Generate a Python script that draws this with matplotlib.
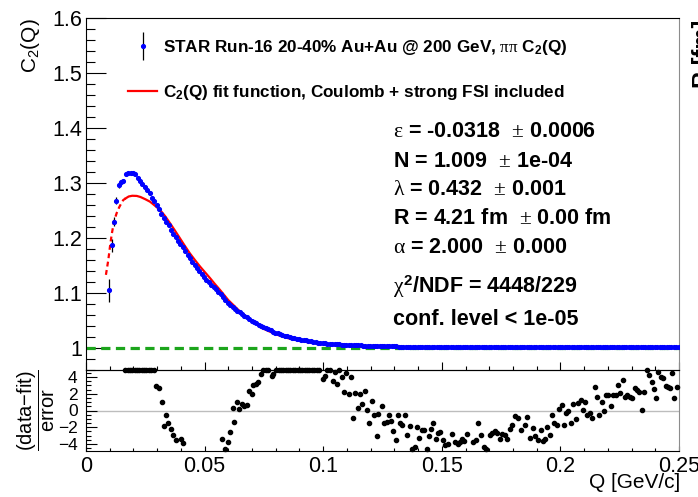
import matplotlib
matplotlib.use('Agg')
import matplotlib.pyplot as plt
import numpy as np
from matplotlib.ticker import MultipleLocator, FuncFormatter
from matplotlib.legend_handler import HandlerErrorbar
from matplotlib.container import ErrorbarContainer

plt.rcParams['font.family'] = 'Liberation Sans'
plt.rcParams['mathtext.fontset'] = 'custom'
plt.rcParams['mathtext.rm'] = 'Liberation Serif'
plt.rcParams['mathtext.it'] = 'Liberation Serif'
plt.rcParams['mathtext.bf'] = 'Liberation Sans:bold'
plt.rcParams['mathtext.sf'] = 'Liberation Sans'

# pi-pi correlation function, 1 MeV bins starting at Q = 9.8 MeV
Q_FIRST = 0.0098
BIN_WIDTH = 0.001
c2_values = [
    1.105, 1.187, 1.230, 1.268, 1.296, 1.301, 1.304, 1.316, 1.318, 1.319,
    1.319, 1.316, 1.310, 1.304, 1.298, 1.293, 1.287, 1.281, 1.273, 1.267,
    1.260, 1.253, 1.244, 1.236, 1.229, 1.223, 1.215, 1.208, 1.202, 1.195,
    1.189, 1.183, 1.176, 1.170, 1.163, 1.157, 1.151, 1.145, 1.140, 1.134,
    1.129, 1.124, 1.120, 1.115, 1.111, 1.107, 1.102, 1.098, 1.093, 1.088,
    1.082, 1.078, 1.075, 1.071, 1.068, 1.065, 1.062, 1.059, 1.056, 1.053,
    1.050, 1.047, 1.045, 1.042, 1.040, 1.038, 1.036, 1.034, 1.032, 1.030,
    1.028, 1.027, 1.025, 1.024, 1.022, 1.021, 1.020, 1.019, 1.018, 1.017,
    1.016, 1.015, 1.0145, 1.014, 1.013, 1.012, 1.011, 1.0105, 1.010, 1.0095,
    1.0090, 1.0085, 1.0081, 1.0078, 1.0074, 1.0071, 1.0068, 1.0066, 1.0063, 1.0061,
    1.0058, 1.0056, 1.0054, 1.0052, 1.0050, 1.0049, 1.0047, 1.0045, 1.0044, 1.0042,
    1.0041, 1.0039, 1.0038, 1.0037, 1.0035, 1.0034, 1.0033, 1.0032, 1.0031, 1.0030,
    1.0029, 1.0028, 1.0027, 1.0027, 1.0026, 1.0025, 1.0025, 1.0024, 1.0023, 1.0023,
    1.0022, 1.0022, 1.0021, 1.0021, 1.0020, 1.0020, 1.0019, 1.0019, 1.0019, 1.0018,
    1.0018, 1.0018, 1.0017, 1.0017, 1.0017, 1.0016, 1.0016, 1.0016, 1.0016, 1.0015,
    1.0015, 1.0015, 1.0015, 1.0015, 1.0014, 1.0014, 1.0014, 1.0014, 1.0014, 1.0014,
    1.0013, 1.0013, 1.0014, 1.0013, 1.0013, 1.0014, 1.0013, 1.0013, 1.0012, 1.0013,
    1.0013, 1.0013, 1.0012, 1.0013, 1.0013, 1.0012, 1.0013, 1.0012, 1.0013, 1.0013,
    1.0012, 1.0013, 1.0013, 1.0012, 1.0013, 1.0013, 1.0013, 1.0014, 1.0013, 1.0013,
    1.0014, 1.0014, 1.0013, 1.0014, 1.0014, 1.0013, 1.0014, 1.0014, 1.0015, 1.0014,
    1.0014, 1.0015, 1.0014, 1.0015, 1.0015, 1.0014, 1.0015, 1.0015, 1.0016, 1.0015,
    1.0015, 1.0016, 1.0015, 1.0016, 1.0016, 1.0017, 1.0016, 1.0016, 1.0017, 1.0016,
    1.0017, 1.0017, 1.0016, 1.0017, 1.0017, 1.0018, 1.0017, 1.0017, 1.0018, 1.0017,
    1.0018, 1.0018, 1.0019, 1.0018, 1.0018, 1.0019, 1.0018, 1.0019, 1.0019, 1.0018,
    1.0019,
]
# only the lowest bins have errors bigger than the marker
low_q_err = [0.021, 0.012, 0.008, 0.006, 0.005, 0.004, 0.0035, 0.003]

# fit function: outside the fit range (dashed) and inside (solid)
fit_dash_q = [0.0084, 0.0094, 0.0101, 0.0108, 0.0118, 0.0129, 0.0140, 0.0150, 0.0157, 0.0167]
fit_dash_c = [1.133, 1.160, 1.184, 1.2055, 1.230, 1.245, 1.256, 1.264, 1.269, 1.272]
fit_q = [0.0167, 0.0180, 0.0195, 0.0214, 0.0230, 0.0250, 0.0270, 0.0290, 0.0312,
         0.0333, 0.0354, 0.0375, 0.0396, 0.0417, 0.0438, 0.0460, 0.0481, 0.0502,
         0.0523, 0.0544, 0.0565, 0.0600, 0.0650, 0.0700, 0.0748, 0.0800, 0.0846,
         0.0900, 0.0944, 0.1000, 0.1057, 0.1140, 0.1250, 0.1400, 0.1600, 0.1900,
         0.2200, 0.2500]
fit_c = [1.272, 1.2755, 1.2768, 1.2765, 1.2745, 1.2705, 1.266, 1.259, 1.251,
         1.240, 1.227, 1.2135, 1.1995, 1.1855, 1.172, 1.1595, 1.148, 1.1375,
         1.127, 1.116, 1.1055, 1.087, 1.066, 1.049, 1.035, 1.025, 1.0185,
         1.013, 1.010, 1.0070, 1.0050, 1.0030, 1.0018, 1.0010, 1.0006, 1.0004,
         1.0003, 1.0003]

# (data-fit)/error; points off the top of the pad sit on the frame (4.85)
res_q = [0.0165, 0.0175, 0.0185, 0.0195, 0.0205, 0.0215, 0.0225, 0.0235, 0.0245, 0.0255,
         0.0265, 0.0275, 0.0285, 0.0295, 0.0308, 0.0319, 0.0328, 0.0337, 0.0347, 0.0358,
         0.0368, 0.0378, 0.0399, 0.0408, 0.0575, 0.0586, 0.0597, 0.0607, 0.0618, 0.0625,
         0.0638, 0.0646, 0.0656, 0.0666, 0.0677, 0.0687, 0.0699, 0.0705, 0.0717, 0.0726,
         0.0737, 0.0747, 0.0758, 0.0769, 0.0783, 0.0790, 0.0802, 0.0812, 0.0822, 0.0832,
         0.0842, 0.0852, 0.0862, 0.0872, 0.0882, 0.0892, 0.0902, 0.0912, 0.0922, 0.0932,
         0.0942, 0.0952, 0.0962, 0.0972, 0.0982, 0.0998, 0.1006, 0.1017, 0.1029, 0.1040,
         0.1051, 0.1057, 0.1068, 0.1078, 0.1088, 0.1096, 0.1108, 0.1116, 0.1127, 0.1135,
         0.1145, 0.1155, 0.1165, 0.1176, 0.1186, 0.1194, 0.1207, 0.1215, 0.1226, 0.1232,
         0.1247, 0.1258, 0.1268, 0.1277, 0.1286, 0.1296, 0.1306, 0.1314, 0.1324, 0.1333,
         0.1345, 0.1355, 0.1366, 0.1376, 0.1387, 0.1394, 0.1405, 0.1415, 0.1426, 0.1436,
         0.1446, 0.1454, 0.1464, 0.1474, 0.1483, 0.1492, 0.1504, 0.1513, 0.1525, 0.1544,
         0.1556, 0.1567, 0.1577, 0.1586, 0.1595, 0.1605, 0.1633, 0.1644, 0.1654, 0.1665,
         0.1679, 0.1686, 0.1703, 0.1713, 0.1724, 0.1734, 0.1745, 0.1755, 0.1766, 0.1776,
         0.1788, 0.1797, 0.1809, 0.1820, 0.1833, 0.1851, 0.1860, 0.1872, 0.1886, 0.1893,
         0.1907, 0.1917, 0.1925, 0.1935, 0.1945, 0.1956, 0.1963, 0.1974, 0.1984, 0.1995,
         0.2005, 0.2015, 0.2024, 0.2033, 0.2043, 0.2054, 0.2064, 0.2075, 0.2086, 0.2094,
         0.2104, 0.2113, 0.2125, 0.2134, 0.2145, 0.2153, 0.2164, 0.2174, 0.2184, 0.2192,
         0.2202, 0.2212, 0.2223, 0.2233, 0.2243, 0.2251, 0.2263, 0.2272, 0.2282, 0.2293,
         0.2302, 0.2313, 0.2322, 0.2331, 0.2343, 0.2354, 0.2364, 0.2374, 0.2385, 0.2395,
         0.2403, 0.2413, 0.2423, 0.2434, 0.2444, 0.2452, 0.2462, 0.2472, 0.2480, 0.2490]
res_v = [4.85, 4.85, 4.85, 4.85, 4.85, 4.85, 4.85, 4.85, 4.85, 4.85,
         4.85, 4.85, 4.85, 2.97, 2.72, 0.96, -1.87, -0.48, -1.48, -2.16,
         -2.95, -3.55, -3.43, -3.84, -3.43, -4.60, -3.76, -2.56, 0.32, -1.36,
         0.96, 0.16, 0.77, 0.53, 0.65, 2.33, 1.97, 3.05, 3.12, 3.36,
         4.40, 4.85, 4.85, 4.85, 4.17, 4.32, 4.85, 4.85, 4.85, 4.85,
         4.85, 4.85, 4.85, 4.85, 4.85, 4.85, 4.85, 4.85, 4.85, 4.85,
         4.85, 4.85, 4.85, 4.85, 4.85, 3.77, 4.17, 4.85, 4.85, 3.53,
         4.65, 3.12, 4.85, 4.05, 2.16, 4.44, 1.92, 4.05, -0.88, 2.04,
         0.32, 1.92, 0.77, 2.33, 0.05, -1.44, 1.13, -0.48, -3.04, -0.36,
         0.53, -1.48, -1.36, -0.56, -1.28, -2.48, -3.56, -0.56, -1.48, -1.68,
         -0.48, -2.95, -1.84, -4.63, -4.36, -1.96, -3.28, -2.36, -2.36, -4.56,
         -3.04, -2.16, -1.44, -3.43, -2.68, -2.56, -3.55, -4.08, -3.96, -2.83,
         -3.76, -3.96, -3.76, -3.43, -3.64, -2.83, -3.76, -3.55, -1.48, -2.95,
         -4.36, -4.63, -2.88, -2.68, -2.48, -2.68, -3.36, -2.76, -2.88, -3.43,
         -2.16, -1.76, -0.64, -0.88, -2.36, -1.76, -0.76, -3.28, -2.08, -3.04,
         -3.48, -2.36, -3.68, -3.36, -1.96, -2.88, -0.56, -1.48, -1.76, 0.16,
         0.65, -1.76, -0.24, -0.08, -1.48, 0.72, -1.04, 0.92, 1.24, 0.05,
         1.04, -0.48, -0.24, -0.88, 2.81, 1.64, -0.56, 1.04, -0.08, 1.84,
         1.84, 0.53, 1.84, 1.84, 3.05, 2.04, 3.65, 1.64, 1.84, 1.64,
         1.52, 2.72, 2.45, 2.24, 0.05, 2.16, 4.85, 4.25, 3.45, 2.57,
         1.52, 4.65, 4.05, 3.93, 2.97, 2.85, 2.64, 4.44, 1.52, 2.85]

fit_text = [
    r'$\varepsilon$ = -0.0318  $\pm$ 0.0006',
    r'N = 1.009  $\pm$ 1e-04',
    r'$\lambda$ = 0.432  $\pm$ 0.001',
    r'R = 4.21 fm  $\pm$ 0.00 fm',
    r'$\alpha$ = 2.000  $\pm$ 0.000',
    r'$\chi^\mathbf{2}$/NDF = 4448/229',
    'conf. level < 1e-05',
]
fit_text_baseline = [136.7, 166.7, 195, 224, 253, 293, 325]

W, H = 698, 497
q = Q_FIRST + BIN_WIDTH * np.arange(len(c2_values))
c2 = np.array(c2_values)

fig = plt.figure(figsize=(W / 100, H / 100), dpi=100)
ax = fig.add_axes([86 / W, 1 - 370 / H, 593 / W, 352 / H])
axr = fig.add_axes([86 / W, 1 - 451 / H, 593 / W, 81 / H])

# upper pad: C2(Q)
ax.axhline(1.0, color='#1ca51c', lw=2.3, ls=(0, (2.9, 1.7)), zorder=2)
fit_line, = ax.plot(fit_q, fit_c, color='red', lw=1.6, zorder=3)
ax.plot(fit_dash_q, fit_dash_c, color='red', lw=1.6, ls=(0, (2.2, 1.6)), zorder=3)
eb = ax.errorbar(q[:8], c2[:8], yerr=low_q_err, fmt='o', ms=2.7, color='blue',
                 mec='blue', ecolor='black', elinewidth=0.9, capsize=0, zorder=4)
ax.plot(q[8:], c2[8:], 'o', ms=2.7, color='blue', mec='blue', zorder=4)

ax.set_xlim(0, 0.25)
ax.set_ylim(0.96, 1.6)
ax.xaxis.set_major_locator(MultipleLocator(0.05))
ax.xaxis.set_minor_locator(MultipleLocator(0.01))
ax.yaxis.set_major_locator(MultipleLocator(0.1))
ax.yaxis.set_minor_locator(MultipleLocator(0.02))
ax.yaxis.set_major_formatter(FuncFormatter(lambda v, p: f'{v:g}'))
ax.tick_params(axis='x', which='major', direction='in', length=5.8, labelbottom=False)
ax.tick_params(axis='x', which='minor', direction='in', length=3.1)
ax.tick_params(axis='y', which='major', direction='in', length=14.4, labelsize=15.5, pad=3)
ax.tick_params(axis='y', which='minor', direction='in', length=6.7)

ax.legend([eb, fit_line],
          [r'STAR Run-16 20-40% Au+Au @ 200 GeV, $\pi\pi$ C$_\mathbf{2}$(Q)',
           r'C$_\mathbf{2}$(Q) fit function, Coulomb + strong FSI included'],
          loc='upper left', bbox_to_anchor=(42 / 593, (370 - 38) / 352),
          frameon=False, borderpad=0, borderaxespad=0, handlelength=1.7,
          handletextpad=0.35, labelspacing=1.5,
          prop={'weight': 'bold', 'size': 12.3},
          handler_map={ErrorbarContainer: HandlerErrorbar(yerr_size=0.82)})

for txt, yb in zip(fit_text, fit_text_baseline):
    fig.text(392.7 / W, 1 - yb / H, txt, fontsize=15.5, weight='bold',
             ha='left', va='baseline')

# lower pad: residuals
axr.axhline(0, color='#bdbdbd', lw=1.0, zorder=1)
axr.plot(res_q, res_v, 'o', color='black', ms=3.0, mec='black', clip_on=False, zorder=3)
axr.set_xlim(0, 0.25)
axr.set_ylim(-4.85, 4.85)
axr.xaxis.set_major_locator(MultipleLocator(0.05))
axr.xaxis.set_minor_locator(MultipleLocator(0.01))
axr.xaxis.set_major_formatter(FuncFormatter(lambda v, p: f'{v:g}'))
axr.yaxis.set_major_locator(MultipleLocator(2))
axr.yaxis.set_minor_locator(MultipleLocator(0.5))
axr.tick_params(axis='x', which='major', direction='in', length=3.6, labelsize=15.5, pad=3.6)
axr.tick_params(axis='x', which='minor', direction='in', length=2.2)
axr.tick_params(axis='y', which='major', direction='in', length=8, labelsize=12.5, pad=6)
axr.tick_params(axis='y', which='minor', direction='in', length=3.6)

for a in (ax, axr):
    a.tick_params(which='both', top=False, right=False, width=0.8)
    a.spines['right'].set_color('#8c8c8c')
    for s in ('left', 'bottom', 'top'):
        a.spines[s].set_color('black')
    a.set_facecolor('none')

fig.text(31 / W, 1 - 18 / H, r'C$_\mathsf{2}$(Q)', rotation=90, fontsize=15,
         ha='center', va='top')
fig.text(36 / W, 1 - 410 / H, r'$\dfrac{\mathsf{(data{-}fit)}}{\mathsf{error}}$',
         rotation=90, fontsize=14.5, ha='center', va='center')
fig.text(680 / W, 1 - 483 / H, 'Q [GeV/c]', fontsize=15, ha='right', va='center')
fig.text(692 / W, 1 - 88 / H, 'R [fm]', rotation=90, fontsize=17, weight='bold',
         ha='left', va='bottom')

fig.savefig('out.png', dpi=100)
